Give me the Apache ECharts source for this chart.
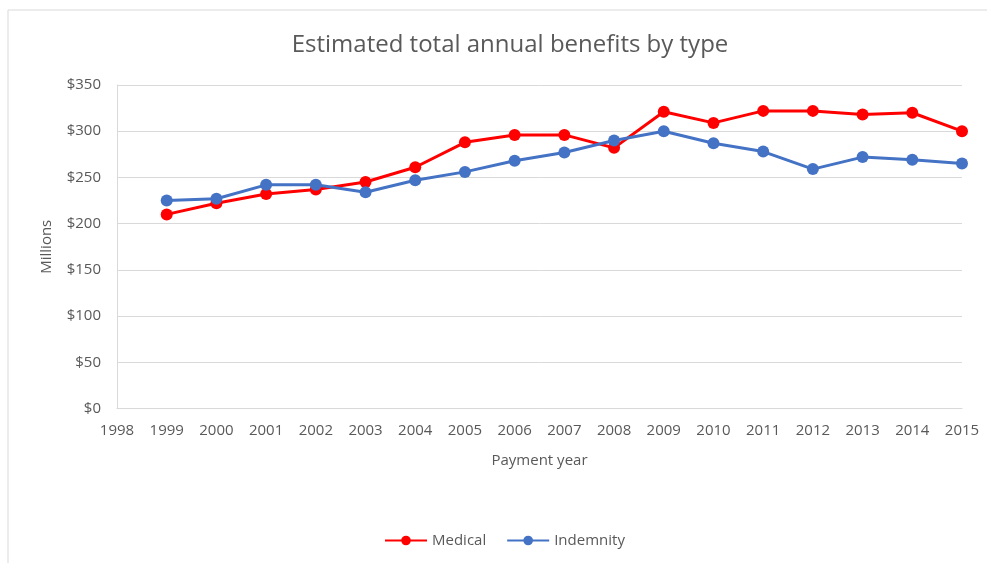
<!DOCTYPE html>
<html>
<head>
<meta charset="utf-8">
<script src="https://cdn.jsdelivr.net/npm/echarts@6/dist/echarts.min.js"></script>
<style>
  html, body { margin: 0; padding: 0; background: #fff; }
  #main { width: 987px; height: 563px; }
</style>
</head>
<body>
<div id="main"></div>
<script>
// data (millions of dollars)
var years = [1999, 2000, 2001, 2002, 2003, 2004, 2005, 2006, 2007, 2008, 2009, 2010, 2011, 2012, 2013, 2014, 2015];
var medical = [210, 222, 232, 237, 245, 261, 288, 296, 296, 282, 321, 309, 322, 322, 318, 320, 300];
var indemnity = [225, 227, 242, 242, 234, 247, 256, 268, 277, 290, 300, 287, 278, 259, 272, 269, 265];
var seriesNames = ['Medical', 'Indemnity'];

var grey = '#595959';
var font = 'Open Sans';

function pairs(vals) {
  return years.map(function (y, i) { return [y, vals[i]]; });
}

var myChart = echarts.init(document.getElementById('main'));

var option = {
  backgroundColor: '#fff',
  animation: false,
  graphic: [{
    type: 'rect',
    shape: { x: 8, y: 10, width: 1000, height: 600 },
    style: { fill: 'none', stroke: '#d9d9d9', lineWidth: 1 },
    silent: true
  }],
  title: {
    text: 'Estimated total annual benefits by type',
    left: 505,
    textAlign: 'center',
    top: 28,
    textStyle: { fontFamily: font, fontSize: 24, fontWeight: 'normal', color: grey }
  },
  legend: {
    data: seriesNames,
    left: 379,
    top: 528,
    itemWidth: 42,
    itemHeight: 12,
    itemGap: 20,
    textStyle: { fontFamily: font, fontSize: 15, color: grey }
  },
  grid: {
    left: 117,
    right: 25,
    top: 85,
    height: 323.5
  },
  xAxis: {
    type: 'value',
    min: 1998,
    max: 2015,
    interval: 1,
    name: 'Payment year',
    nameLocation: 'middle',
    nameGap: 45,
    nameTextStyle: { fontFamily: font, fontSize: 15, color: grey },
    axisLine: { show: true, lineStyle: { color: '#d9d9d9', width: 1 } },
    axisTick: { show: false },
    splitLine: { show: false },
    axisLabel: {
      fontFamily: font, fontSize: 15, color: grey, margin: 15,
      formatter: function (v) { return String(v); }
    }
  },
  yAxis: {
    type: 'value',
    min: 0,
    max: 350,
    interval: 50,
    name: 'Millions',
    nameLocation: 'middle',
    nameGap: 63,
    nameTextStyle: { fontFamily: font, fontSize: 15, color: grey },
    axisLine: { show: true, lineStyle: { color: '#d9d9d9', width: 1 } },
    axisTick: { show: false },
    splitLine: { show: true, lineStyle: { color: '#d9d9d9', width: 1 } },
    axisLabel: {
      fontFamily: font, fontSize: 15, color: grey, margin: 16,
      formatter: function (v) { return '$' + v; }
    }
  },
  series: [
    {
      name: seriesNames[0],
      type: 'line',
      data: pairs(medical),
      symbol: 'circle',
      symbolSize: 12,
      itemStyle: { color: '#ff0000' },
      lineStyle: { color: '#ff0000', width: 3 }
    },
    {
      name: seriesNames[1],
      type: 'line',
      data: pairs(indemnity),
      symbol: 'circle',
      symbolSize: 12,
      itemStyle: { color: '#4472c4' },
      lineStyle: { color: '#4472c4', width: 3 }
    }
  ]
};

myChart.setOption(option);
</script>
</body>
</html>
